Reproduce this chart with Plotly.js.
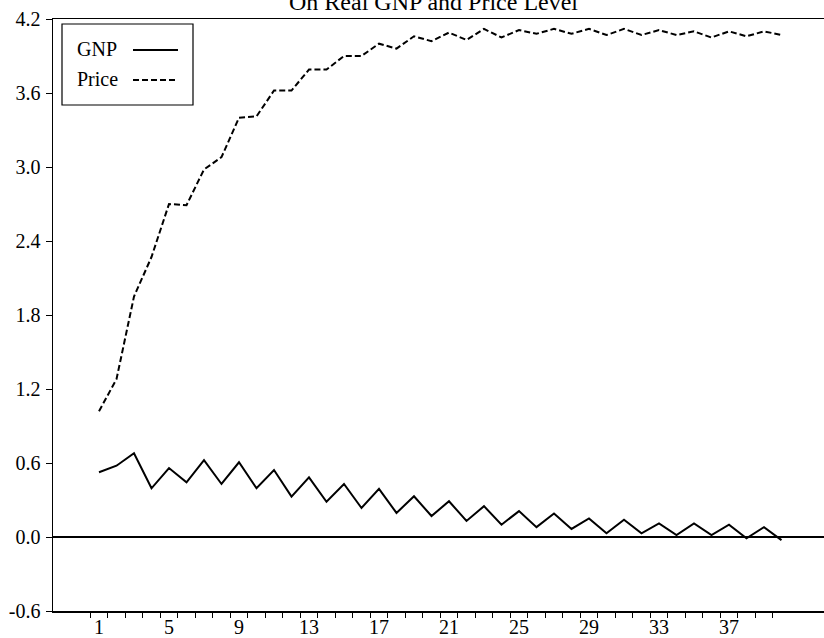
<!DOCTYPE html>
<html>
<head>
<meta charset="utf-8">
<script src="https://cdn.plot.ly/plotly-3.0.1.min.js"></script>
<style>html,body{margin:0;padding:0;background:#fff;}#chart{width:824px;height:638px;}</style>
</head>
<body>
<div id="chart"></div>
<script>
const periods = Array.from({length: 40}, (_, i) => i + 1);
const gnp = [0.525, 0.578, 0.679, 0.395, 0.559, 0.443, 0.624, 0.430, 0.606, 0.395,
             0.543, 0.327, 0.484, 0.286, 0.430, 0.235, 0.390, 0.195, 0.330, 0.170,
             0.290, 0.130, 0.250, 0.100, 0.210, 0.080, 0.190, 0.065, 0.150, 0.030,
             0.140, 0.030, 0.110, 0.016, 0.110, 0.016, 0.100, -0.010, 0.080, -0.025];
const price = [1.02, 1.28, 1.95, 2.27, 2.70, 2.69, 2.98, 3.08, 3.40, 3.41,
               3.62, 3.62, 3.79, 3.79, 3.90, 3.90, 4.00, 3.96, 4.06, 4.02,
               4.09, 4.03, 4.12, 4.05, 4.11, 4.08, 4.12, 4.08, 4.12, 4.07,
               4.12, 4.07, 4.11, 4.07, 4.10, 4.05, 4.10, 4.06, 4.10, 4.07];
const xLabels = [1, 5, 9, 13, 17, 21, 25, 29, 33, 37];
const yTicks = [-0.6, 0.0, 0.6, 1.2, 1.8, 2.4, 3.0, 3.6, 4.2];
const titleText = 'On Real GNP and Price Level';
const seriesNames = ['GNP', 'Price'];

const W = 824, H = 638, L = 53, R = 0, T = 19, B = 27;
const pw = W - L - R, ph = H - T - B;
const px = v => (v - L) / pw;
const py = v => (H - B - v) / ph;
const FONT = 'Liberation Serif, Times New Roman, serif';
const FS = 20;

const traces = [
  {x: periods, y: gnp, type: 'scatter', mode: 'lines', name: seriesNames[0],
   line: {color: '#000', width: 2}, showlegend: false},
  {x: periods, y: price, type: 'scatter', mode: 'lines', name: seriesNames[1],
   line: {color: '#000', width: 2, dash: '6px,3px'}, showlegend: false}
];

const shapes = [
  {type: 'rect', xref: 'paper', yref: 'paper', x0: px(62), x1: px(193), y0: py(24), y1: py(105),
   line: {color: '#000', width: 1.2}, fillcolor: '#fff', layer: 'above'},
  {type: 'line', xref: 'paper', yref: 'paper', x0: px(133), x1: px(178), y0: py(50), y1: py(50),
   line: {color: '#000', width: 2}},
  {type: 'line', xref: 'paper', yref: 'paper', x0: px(133), x1: px(178), y0: py(80), y1: py(80),
   line: {color: '#000', width: 2, dash: '6px,3px'}}
];

const annotations = [
  {text: titleText, xref: 'paper', yref: 'paper', x: px(433), y: py(17), xanchor: 'center', yanchor: 'bottom',
   showarrow: false, font: {family: FONT, size: 24, color: '#000'}},
  {text: seriesNames[0], xref: 'paper', yref: 'paper', x: px(75), y: py(49), xanchor: 'left', yanchor: 'middle',
   showarrow: false, font: {family: FONT, size: FS, color: '#000'}},
  {text: seriesNames[1], xref: 'paper', yref: 'paper', x: px(75), y: py(79), xanchor: 'left', yanchor: 'middle',
   showarrow: false, font: {family: FONT, size: FS, color: '#000'}}
];

const xmin = 1 - (99 - L) / 17.5;
const xmax = xmin + pw / 17.5;

const layout = {
  width: W, height: H,
  margin: {l: L, r: R, t: T, b: B, pad: 0},
  paper_bgcolor: '#fff', plot_bgcolor: '#fff',
  showlegend: false,
  font: {family: FONT, size: FS, color: '#000'},
  xaxis: {
    range: [xmin, xmax], showgrid: false, zeroline: false,
    showline: true, linecolor: '#000', linewidth: 1.5, mirror: true,
    tickmode: 'array', tickvals: xLabels, ticktext: xLabels.map(String),
    ticks: 'outside', ticklen: 0.1, tickcolor: '#000',
    ticklabelstandoff: -3,
    minor: {tickmode: 'array', tickvals: periods.map(p => p - 0.5), ticks: 'outside',
            ticklen: 5, tickwidth: 1, tickcolor: '#000', showgrid: false},
    tickfont: {family: FONT, size: FS, color: '#000'}
  },
  yaxis: {
    range: [-0.6, 4.2], showgrid: false,
    zeroline: true, zerolinecolor: '#000', zerolinewidth: 1.2,
    showline: true, linecolor: '#000', linewidth: 1.5, mirror: false,
    tickmode: 'array', tickvals: yTicks, ticktext: yTicks.map(v => v.toFixed(1)),
    ticks: 'outside', ticklen: 6, tickwidth: 1, tickcolor: '#000',
    ticklabelstandoff: 1,
    tickfont: {family: FONT, size: FS, color: '#000'}
  },
  shapes: shapes,
  annotations: annotations
};

Plotly.newPlot('chart', traces, layout, {displayModeBar: false, staticPlot: true});
</script>
</body>
</html>
